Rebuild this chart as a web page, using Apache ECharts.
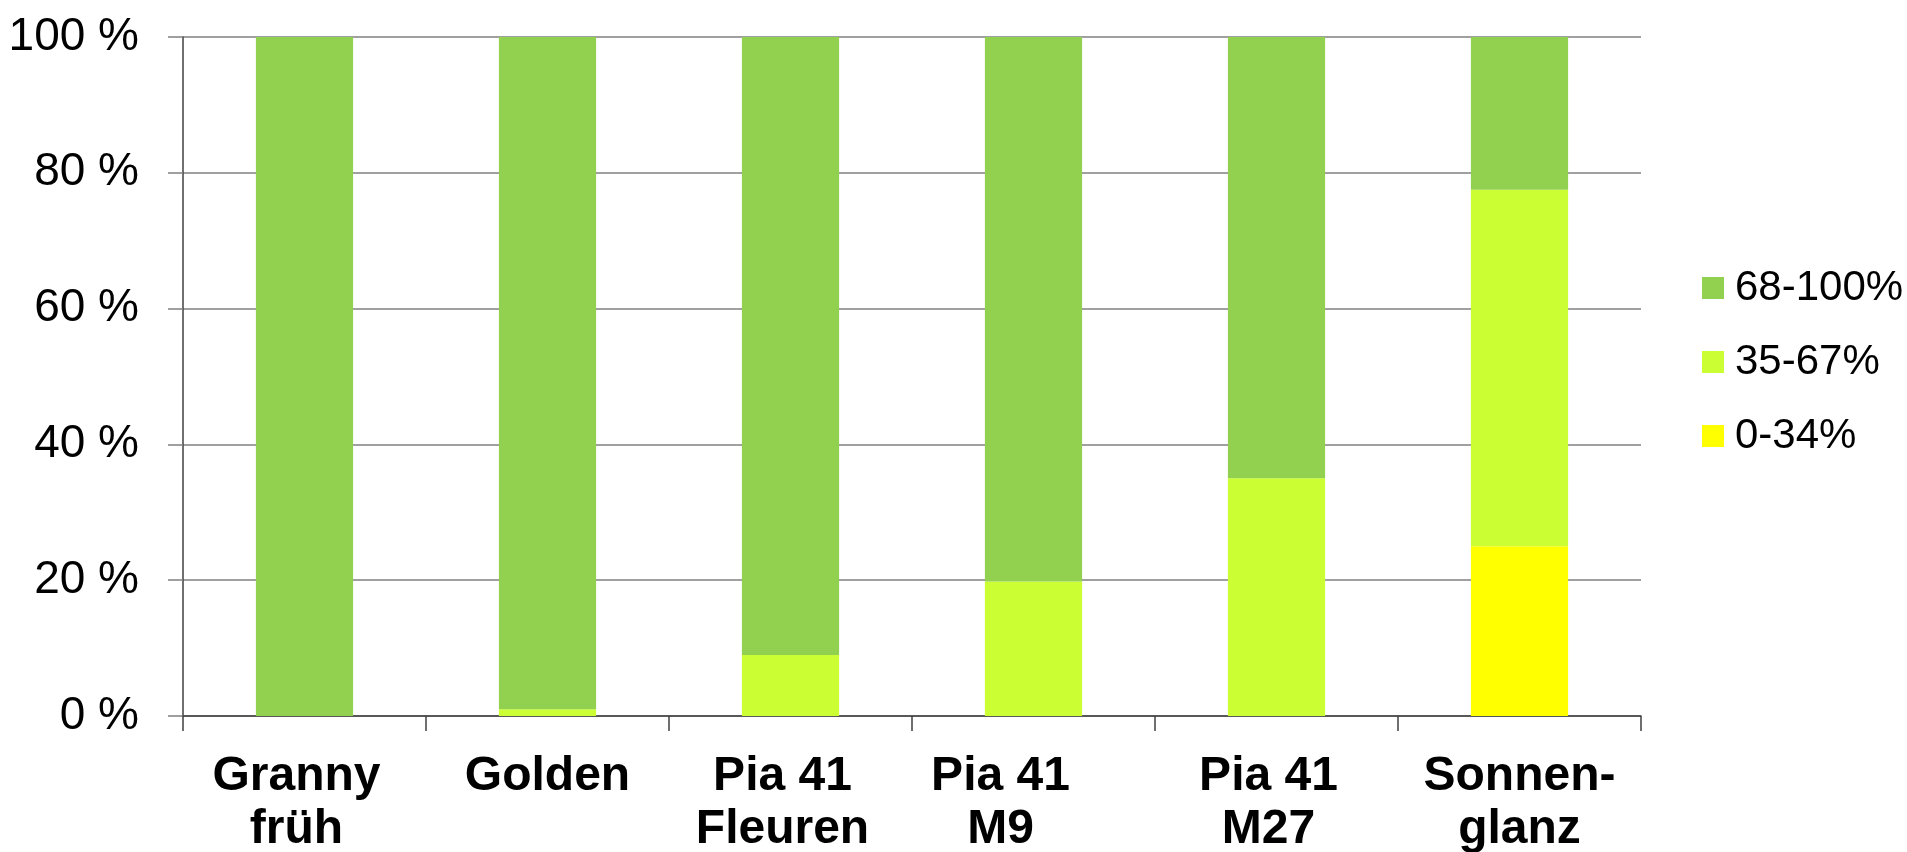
<!DOCTYPE html>
<html>
<head>
<meta charset="utf-8">
<script src="https://cdn.jsdelivr.net/npm/echarts@6/dist/echarts.min.js"></script>
<style>
html,body{margin:0;padding:0;background:#fff;}
#chart{width:1907px;height:852px;}
</style>
</head>
<body>
<div id="chart"></div>
<script>
const categories = ['Granny\nfrüh', 'Golden', 'Pia 41\nFleuren', 'Pia 41\nM9', 'Pia 41\nM27', 'Sonnen-\nglanz'];
const seriesNames = ['0-34%', '35-67%', '68-100%'];
const low = [0, 0, 0, 0, 0, 25];
const mid = [0, 1, 9, 19.8, 35, 52.5];
const high = [100, 99, 91, 80.2, 65, 22.5];
const yTicks = [0, 20, 40, 60, 80, 100];

const colors = ['#FFFF00', '#CCFF33', '#92D050'];
const FONT = '"Liberation Sans", Arial, sans-serif';

// label horizontal nudges (style, not data)
const labelPadRight = {'Granny\nfrüh': 16, 'Pia 41\nFleuren': 16, 'Pia 41\nM9': 66, 'Pia 41\nM27': 16};

const chart = echarts.init(document.getElementById('chart'), null, {renderer: 'canvas'});
const values = [low, mid, high];
chart.setOption({
  animation: false,
  backgroundColor: '#ffffff',
  grid: {left: 183, right: 266, top: 37, bottom: 136, containLabel: false, outerBoundsMode: 'none'},
  legend: {
    orient: 'vertical',
    left: 1697,
    top: 262,
    itemWidth: 22,
    itemHeight: 22,
    itemGap: 32,
    icon: 'rect',
    data: seriesNames.slice().reverse(),
    textStyle: {fontFamily: FONT, fontSize: 42, color: '#000', lineHeight: 42, padding: [0, 0, 0, 6]}
  },
  xAxis: {
    type: 'category',
    data: categories.map(c => ({value: c, textStyle: {padding: [0, labelPadRight[c] || 0, 0, 0]}})),
    boundaryGap: true,
    axisLine: {lineStyle: {color: '#404040', width: 1.5}},
    axisTick: {show: true, length: 15, lineStyle: {color: '#404040', width: 1.5}},
    axisLabel: {fontFamily: FONT, fontSize: 48, fontWeight: 'bold', color: '#000', lineHeight: 53, margin: 34, interval: 0}
  },
  yAxis: {
    type: 'value',
    min: yTicks[0],
    max: yTicks[yTicks.length - 1],
    interval: 20,
    axisLine: {show: true, lineStyle: {color: '#404040', width: 1.5}},
    axisTick: {show: true, length: 15, lineStyle: {color: '#808080', width: 1.5}},
    splitLine: {show: true, lineStyle: {color: '#808080', width: 1.5}},
    axisLabel: {fontFamily: FONT, fontSize: 46, color: '#000', margin: 44, formatter: v => v + ' %'}
  },
  series: seriesNames.map((name, i) => ({
    name: name,
    type: 'bar',
    stack: 'total',
    barCategoryGap: '60%',
    itemStyle: {color: colors[i]},
    data: values[i]
  }))
});
</script>
</body>
</html>
